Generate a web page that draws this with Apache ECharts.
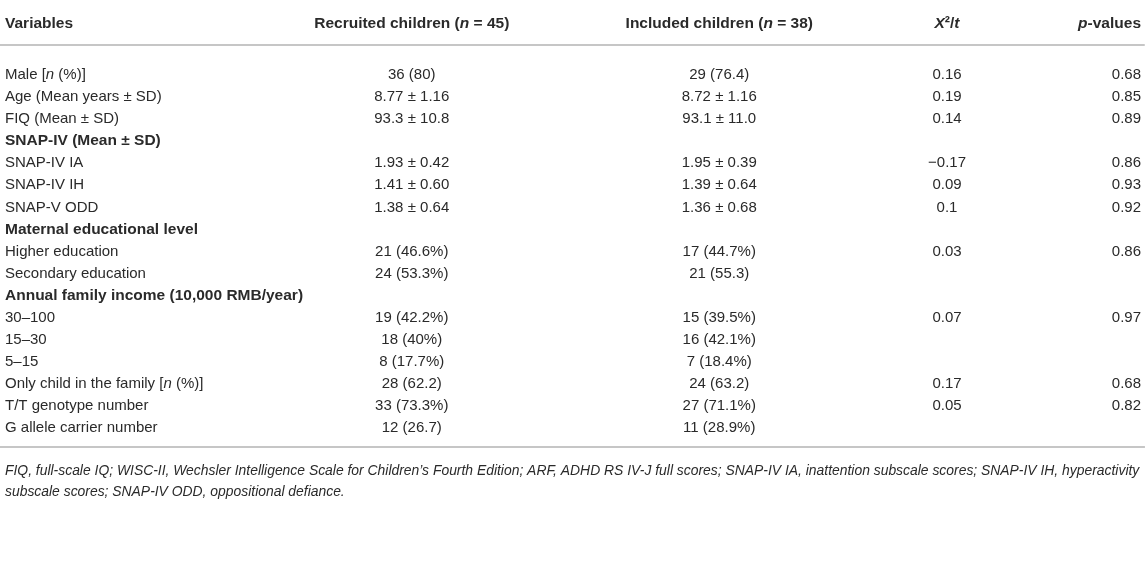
<!DOCTYPE html>
<html><head><meta charset="utf-8">
<script src="https://cdn.jsdelivr.net/npm/echarts@6/dist/echarts.min.js"></script>
<style>html,body{margin:0;padding:0;background:#fff}#c{width:1146px;height:561px}</style>
</head><body><div id="c"></div>
<script>
// ---- data ----
const headersOuter = ['Variables', 'p-values'];
const headersGroup = ['Recruited children (n = 45)', 'Included children (n = 38)'];
const headersStat = ['X²/t'];
const variables = [
  'Male [n (%)]', 'Age (Mean years ± SD)', 'FIQ (Mean ± SD)', 'SNAP-IV (Mean ± SD)',
  'SNAP-IV IA', 'SNAP-IV IH', 'SNAP-V ODD', 'Maternal educational level',
  'Higher education', 'Secondary education', 'Annual family income (10,000 RMB/year)',
  '30–100', '15–30', '5–15', 'Only child in the family [n (%)]',
  'T/T genotype number', 'G allele carrier number'
];
const sectionRows = ['SNAP-IV (Mean ± SD)', 'Maternal educational level', 'Annual family income (10,000 RMB/year)'];
const recruited = ['36 (80)', '8.77 ± 1.16', '93.3 ± 10.8', '', '1.93 ± 0.42', '1.41 ± 0.60', '1.38 ± 0.64', '',
  '21 (46.6%)', '24 (53.3%)', '', '19 (42.2%)', '18 (40%)', '8 (17.7%)', '28 (62.2)', '33 (73.3%)', '12 (26.7)'];
const included = ['29 (76.4)', '8.72 ± 1.16', '93.1 ± 11.0', '', '1.95 ± 0.39', '1.39 ± 0.64', '1.36 ± 0.68', '',
  '17 (44.7%)', '21 (55.3)', '', '15 (39.5%)', '16 (42.1%)', '7 (18.4%)', '24 (63.2)', '27 (71.1%)', '11 (28.9%)'];
const chiT = ['0.16', '0.19', '0.14', '', '−0.17', '0.09', '0.1', '', '0.03', '', '', '0.07', '', '', '0.17', '0.05', ''];
const pValues = ['0.68', '0.85', '0.89', '', '0.86', '0.93', '0.92', '', '0.86', '', '', '0.97', '', '', '0.68', '0.82', ''];
const footnote = [
  'FIQ, full-scale IQ; WISC-II, Wechsler Intelligence Scale for Children’s Fourth Edition; ARF, ADHD RS IV-J full scores; SNAP-IV IA, inattention subscale scores; SNAP-IV IH, hyperactivity',
  'subscale scores; SNAP-IV ODD, oppositional defiance.'
];

// ---- styling helpers ----
const FONT = 'Liberation Sans';
const TXT = '#2a2a2a';
const LINE = '#c6c6c6';
const FS = 15;
const FSB = 15.5;
const italicRe = /((?<=[\[(])n(?= )|^p(?=-)|^X(?=²)|(?<=\/)t$)/;
function markup(text, base) {
  if (!text) return '';
  const parts = text.split(italicRe);
  return parts.map((p, i) => p === '' ? '' : '{' + (i % 2 ? base + 'i' : base) + '|' + p + '}').join('');
}
const rich = {
  h: { fontFamily: FONT, fontSize: FSB, fontWeight: 'bold', color: TXT },
  hi: { fontFamily: FONT, fontSize: FSB, fontWeight: 'bold', fontStyle: 'italic', color: TXT },
  r: { fontFamily: FONT, fontSize: FS, color: TXT },
  ri: { fontFamily: FONT, fontSize: FS, fontStyle: 'italic', color: TXT },
  b: { fontFamily: FONT, fontSize: FSB, fontWeight: 'bold', color: TXT }
};
function cellLabel(align) {
  return {
    show: true, position: 'inside', align: align, verticalAlign: 'middle',
    color: TXT, textBorderWidth: 0, fontFamily: FONT, fontSize: FS,
    rich: rich,
    formatter: p => p.data[2]
  };
}
function bodyText(t) {
  return sectionRows.includes(t) ? '{b|' + t + '}' : markup(t, 'r');
}

const gridTop = 64, gridHeight = 375;
const yCat = gi => ({ gridIndex: gi, type: 'category', data: variables, inverse: true, show: false });
const headerAxis = (gi, data, extra) => Object.assign({
  gridIndex: gi, type: 'category', data: data, position: 'top',
  axisLine: { show: false }, axisTick: { show: false }, splitLine: { show: false },
  axisLabel: { interval: 0, margin: 32, color: TXT, rich: rich, formatter: v => markup(v, 'h') }
}, extra || {});
const lineAxis = (gi, pos) => ({
  gridIndex: gi, type: 'category', data: ['a'], position: pos,
  axisLine: { show: true, lineStyle: { color: LINE, width: 2 } },
  axisTick: { show: false }, axisLabel: { show: false }, splitLine: { show: false }
});

const scatterBase = {
  type: 'scatter', symbolSize: 1, silent: true,
  itemStyle: { color: 'rgba(0,0,0,0)', opacity: 1 }, animation: false
};

const option = {
  animation: false,
  title: {
    left: 5, top: 461, padding: 0, text: footnote.join('\n'),
    textStyle: { fontFamily: FONT, fontSize: 13.9, fontStyle: 'italic', fontWeight: 'normal', color: TXT, lineHeight: 21 }
  },
  grid: [
    { left: 5, right: 5, top: gridTop, height: gridHeight },        // 0: variables & p-values
    { left: 258, width: 615, top: gridTop, height: gridHeight },    // 1: recruited & included
    { left: 900, width: 94, top: gridTop, height: gridHeight },     // 2: X2/t
    { left: 0, right: 2, top: 3, bottom: 114 },                     // 3: frame lines
    { left: 0, right: 2, top: 44, height: 1 }                       // 4: header rule
  ],
  xAxis: [
    headerAxis(0, headersOuter, { boundaryGap: false }),
    headerAxis(1, headersGroup),
    headerAxis(2, headersStat),
    lineAxis(3, 'top'),
    lineAxis(3, 'bottom'),
    lineAxis(4, 'top')
  ],
  yAxis: [yCat(0), yCat(1), yCat(2), { gridIndex: 3, type: 'value', show: false }, { gridIndex: 4, type: 'value', show: false }],
  series: [
    Object.assign({}, scatterBase, { xAxisIndex: 0, yAxisIndex: 0, label: cellLabel('left'),
      data: variables.map((v, i) => [headersOuter[0], v, bodyText(v)]) }),
    Object.assign({}, scatterBase, { xAxisIndex: 0, yAxisIndex: 0, label: cellLabel('right'),
      data: pValues.map((v, i) => [headersOuter[1], variables[i], markup(v, 'r')]) }),
    Object.assign({}, scatterBase, { xAxisIndex: 1, yAxisIndex: 1, label: cellLabel('center'),
      data: recruited.map((v, i) => [headersGroup[0], variables[i], markup(v, 'r')]) }),
    Object.assign({}, scatterBase, { xAxisIndex: 1, yAxisIndex: 1, label: cellLabel('center'),
      data: included.map((v, i) => [headersGroup[1], variables[i], markup(v, 'r')]) }),
    Object.assign({}, scatterBase, { xAxisIndex: 2, yAxisIndex: 2, label: cellLabel('center'),
      data: chiT.map((v, i) => [headersStat[0], variables[i], markup(v, 'r')]) })
  ]
};
option.xAxis[0].axisLabel.alignMinLabel = 'left';
option.xAxis[0].axisLabel.alignMaxLabel = 'right';
const chart = echarts.init(document.getElementById('c'), null, { renderer: 'canvas' });
chart.setOption(option);
</script></body></html>
